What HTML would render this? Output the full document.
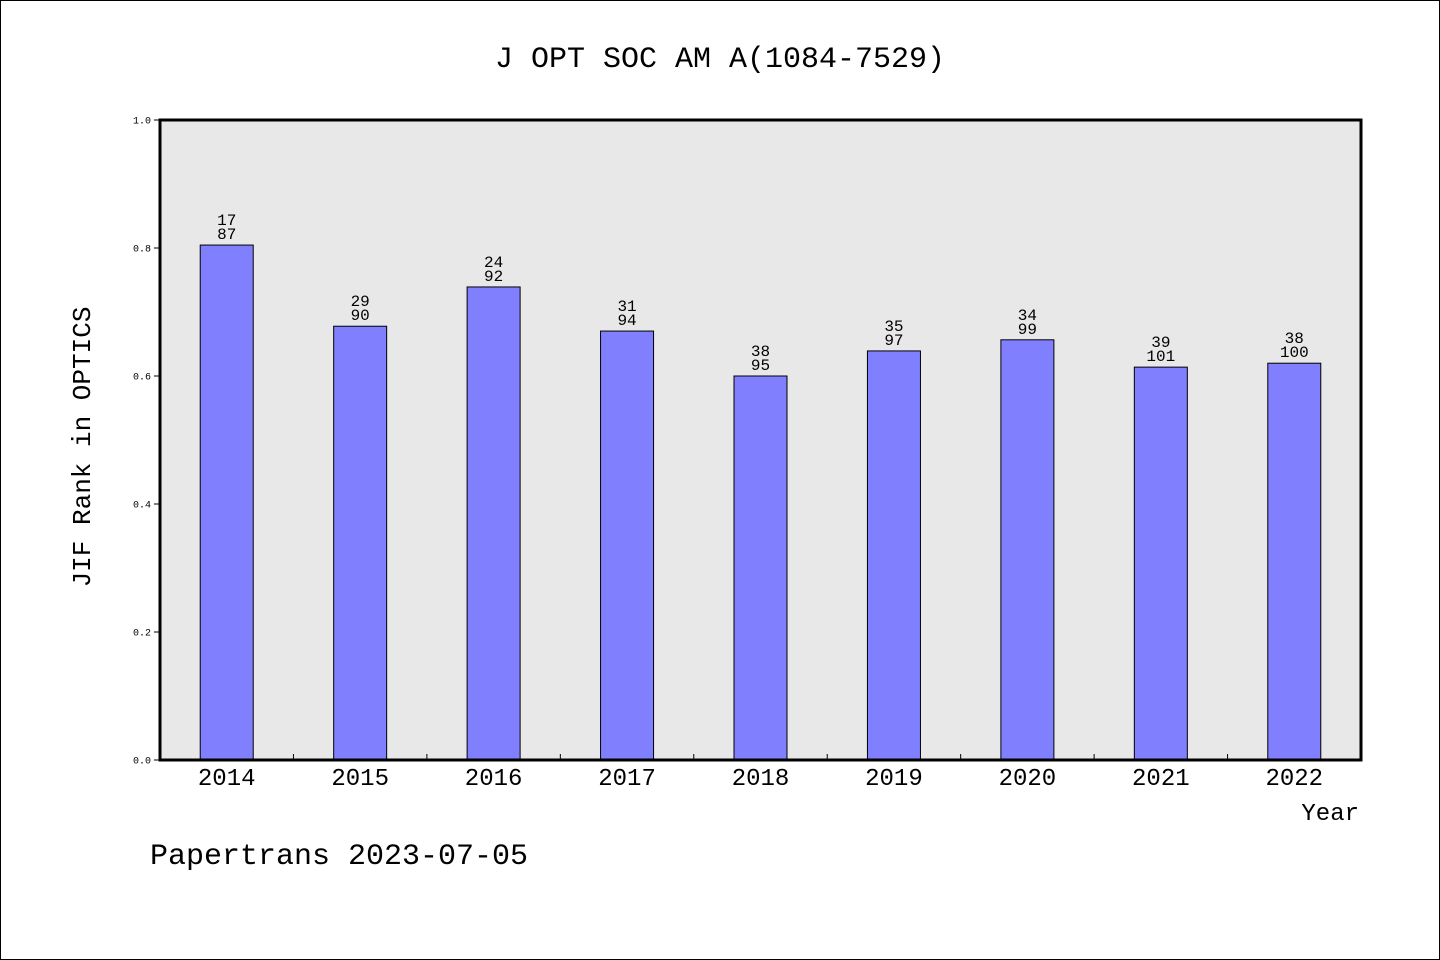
<!DOCTYPE html>
<html><head><meta charset="utf-8"><style>
html,body{margin:0;padding:0;background:#fff}
svg{display:block}
text{font-family:"WenQuanYi Zen Hei","Liberation Mono",monospace;fill:#000}
</style></head><body>
<svg id="chart" width="1440" height="960">
<rect x="0.5" y="0.5" width="1439" height="959" fill="#fff" stroke="#000"/>
<text x="720" y="67" font-size="30" text-anchor="middle">J OPT SOC AM A(1084-7529)</text>
<rect x="160" y="120" width="1201" height="640" fill="#e8e8e8"/>
<g id="bars"></g>
<g id="yaxis"></g>
<g id="xaxis"></g>
<rect x="160" y="120" width="1201" height="640" fill="none" stroke="#000" stroke-width="3"/>
<text transform="translate(90,447) rotate(-90)" font-size="26" text-anchor="middle">JIF Rank in OPTICS</text>
<text x="1359" y="820" font-size="24" text-anchor="end">Year</text>
<text x="150" y="864" font-size="30">Papertrans 2023-07-05</text>
</svg>
<script>
const years=["2014","2015","2016","2017","2018","2019","2020","2021","2022"];
const ranks=[17,29,24,31,38,35,34,39,38];
const totals=[87,90,92,94,95,97,99,101,100];
const yTicks=["0.0","0.2","0.4","0.6","0.8","1.0"];
const NS="http://www.w3.org/2000/svg";
const X0=160,W=1201,Y0=760,H=640;
const band=W/years.length;
const xs=i=>X0+band*(i+0.5);
const ys=v=>Y0-v*H;
function mk(t,a,p){const e=document.createElementNS(NS,t);for(const k in a)e.setAttribute(k,a[k]);p.appendChild(e);return e;}
const bars=document.getElementById('bars');
years.forEach((y,i)=>{
  const v=1-ranks[i]/totals[i];
  const cx=xs(i),top=ys(v);
  const r=mk('rect',{x:cx-26.5,y:top,width:53,height:Y0-top,fill:'#8080ff',stroke:'#000','stroke-width':1},bars);
  
  
  const t1=mk('text',{x:cx,y:top-20,'font-size':16,'text-anchor':'middle'},bars);t1.textContent=ranks[i];
  
  
  const t2=mk('text',{x:cx,y:top-6,'font-size':16,'text-anchor':'middle'},bars);t2.textContent=totals[i];
  
  
});
const ya=document.getElementById('yaxis');
yTicks.forEach(t=>{
  const y=ys(parseFloat(t));
  const l=mk('line',{x1:X0-6,x2:X0,y1:y,y2:y,stroke:'#000'},ya);
  
  
  const tx=mk('text',{x:X0-9,y:y+3.5,'font-size':10,'text-anchor':'end'},ya);tx.textContent=t;
  
  
});
const xa=document.getElementById('xaxis');
years.forEach((y,i)=>{
  if(i>0){const l=mk('line',{x1:X0+band*i,x2:X0+band*i,y1:Y0,y2:Y0-6,stroke:'#000'},xa);
  
  }
  const tx=mk('text',{x:xs(i),y:785,'font-size':24,'text-anchor':'middle'},xa);tx.textContent=y;
  
  
});
</script>
</body></html>
